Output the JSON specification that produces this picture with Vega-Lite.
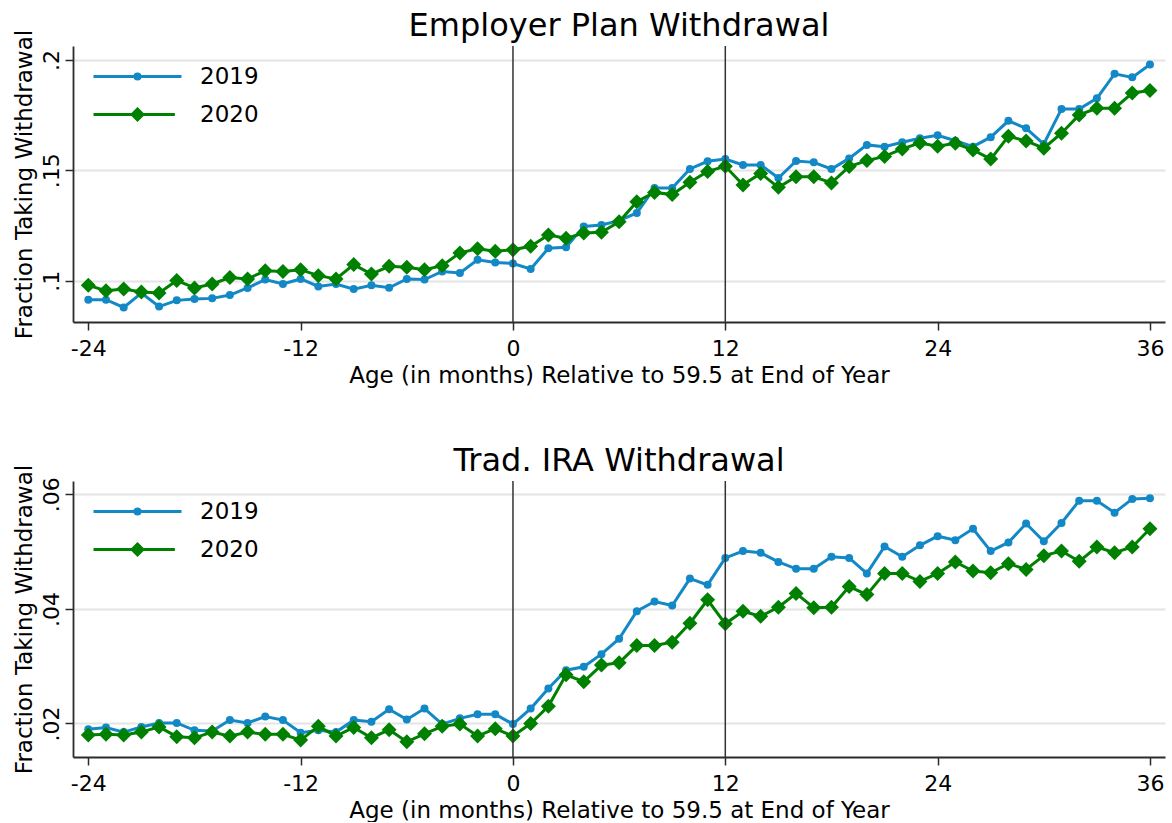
{
  "$schema": "https://vega.github.io/schema/vega-lite/v6.json",
  "background": "white",
  "padding": {"left": 12, "top": 10, "right": 5, "bottom": 0},
  "spacing": 58,
  "config": {
    "font": "DejaVu Sans",
    "view": {"stroke": null},
    "title": {"fontSize": 32, "fontWeight": "normal", "color": "black", "anchor": "middle", "baseline": "alphabetic", "offset": -14, "frame": "group"},
    "axis": {
      "labelFont": "DejaVu Sans", "titleFont": "DejaVu Sans",
      "labelFontSize": 22, "titleFontSize": 23, "titleFontWeight": "normal",
      "labelColor": "black", "titleColor": "black",
      "domainColor": "#2b2b2b", "domainWidth": 1.8,
      "tickColor": "#2b2b2b", "tickWidth": 1.5, "tickSize": 8
    },
    "legend": {"labelFont": "DejaVu Sans", "labelFontSize": 23, "labelColor": "black", "title": null, "orient": "none", "legendX": 52, "legendY": 18, "padding": 0, "rowPadding": 13, "symbolSize": 484, "symbolStrokeWidth": 3, "symbolOpacity": 1, "labelOffset": 50}
  },
  "datasets": {
    "vlines": [{"m": 0}, {"m": 12}],
    "ep": [
      {"m":-24,"year":"2019","v":0.0914},{"m":-23,"year":"2019","v":0.0914},{"m":-22,"year":"2019","v":0.0879},{"m":-21,"year":"2019","v":0.0944},{"m":-20,"year":"2019","v":0.0883},{"m":-19,"year":"2019","v":0.0911},{"m":-18,"year":"2019","v":0.0917},{"m":-17,"year":"2019","v":0.0920},{"m":-16,"year":"2019","v":0.0935},{"m":-15,"year":"2019","v":0.0967},{"m":-14,"year":"2019","v":0.1005},{"m":-13,"year":"2019","v":0.0985},{"m":-12,"year":"2019","v":0.1008},{"m":-11,"year":"2019","v":0.0974},{"m":-10,"year":"2019","v":0.0985},{"m":-9,"year":"2019","v":0.0962},{"m":-8,"year":"2019","v":0.0979},{"m":-7,"year":"2019","v":0.0968},{"m":-6,"year":"2019","v":0.1008},{"m":-5,"year":"2019","v":0.1005},{"m":-4,"year":"2019","v":0.1042},{"m":-3,"year":"2019","v":0.1035},{"m":-2,"year":"2019","v":0.1095},{"m":-1,"year":"2019","v":0.1083},{"m":0,"year":"2019","v":0.1078},{"m":1,"year":"2019","v":0.1053},{"m":2,"year":"2019","v":0.1147},{"m":3,"year":"2019","v":0.1151},{"m":4,"year":"2019","v":0.1246},{"m":5,"year":"2019","v":0.1252},{"m":6,"year":"2019","v":0.1272},{"m":7,"year":"2019","v":0.1307},{"m":8,"year":"2019","v":0.1420},{"m":9,"year":"2019","v":0.1420},{"m":10,"year":"2019","v":0.1506},{"m":11,"year":"2019","v":0.1541},{"m":12,"year":"2019","v":0.1551},{"m":13,"year":"2019","v":0.1524},{"m":14,"year":"2019","v":0.1524},{"m":15,"year":"2019","v":0.1465},{"m":16,"year":"2019","v":0.1542},{"m":17,"year":"2019","v":0.1536},{"m":18,"year":"2019","v":0.1506},{"m":19,"year":"2019","v":0.1554},{"m":20,"year":"2019","v":0.1615},{"m":21,"year":"2019","v":0.1607},{"m":22,"year":"2019","v":0.1627},{"m":23,"year":"2019","v":0.1645},{"m":24,"year":"2019","v":0.1659},{"m":25,"year":"2019","v":0.1634},{"m":26,"year":"2019","v":0.1607},{"m":27,"year":"2019","v":0.1650},{"m":28,"year":"2019","v":0.1724},{"m":29,"year":"2019","v":0.1690},{"m":30,"year":"2019","v":0.1619},{"m":31,"year":"2019","v":0.1778},{"m":32,"year":"2019","v":0.1778},{"m":33,"year":"2019","v":0.1826},{"m":34,"year":"2019","v":0.1937},{"m":35,"year":"2019","v":0.1921},{"m":36,"year":"2019","v":0.1979},
      {"m":-24,"year":"2020","v":0.0979},{"m":-23,"year":"2020","v":0.0955},{"m":-22,"year":"2020","v":0.0962},{"m":-21,"year":"2020","v":0.0949},{"m":-20,"year":"2020","v":0.0944},{"m":-19,"year":"2020","v":0.1001},{"m":-18,"year":"2020","v":0.0967},{"m":-17,"year":"2020","v":0.0985},{"m":-16,"year":"2020","v":0.1014},{"m":-15,"year":"2020","v":0.1008},{"m":-14,"year":"2020","v":0.1045},{"m":-13,"year":"2020","v":0.1042},{"m":-12,"year":"2020","v":0.1050},{"m":-11,"year":"2020","v":0.1023},{"m":-10,"year":"2020","v":0.1008},{"m":-9,"year":"2020","v":0.1073},{"m":-8,"year":"2020","v":0.1030},{"m":-7,"year":"2020","v":0.1065},{"m":-6,"year":"2020","v":0.1061},{"m":-5,"year":"2020","v":0.1050},{"m":-4,"year":"2020","v":0.1068},{"m":-3,"year":"2020","v":0.1126},{"m":-2,"year":"2020","v":0.1145},{"m":-1,"year":"2020","v":0.1133},{"m":0,"year":"2020","v":0.1140},{"m":1,"year":"2020","v":0.1156},{"m":2,"year":"2020","v":0.1207},{"m":3,"year":"2020","v":0.1192},{"m":4,"year":"2020","v":0.1216},{"m":5,"year":"2020","v":0.1219},{"m":6,"year":"2020","v":0.1267},{"m":7,"year":"2020","v":0.1358},{"m":8,"year":"2020","v":0.1400},{"m":9,"year":"2020","v":0.1390},{"m":10,"year":"2020","v":0.1446},{"m":11,"year":"2020","v":0.1495},{"m":12,"year":"2020","v":0.1518},{"m":13,"year":"2020","v":0.1434},{"m":14,"year":"2020","v":0.1486},{"m":15,"year":"2020","v":0.1423},{"m":16,"year":"2020","v":0.1471},{"m":17,"year":"2020","v":0.1471},{"m":18,"year":"2020","v":0.1443},{"m":19,"year":"2020","v":0.1517},{"m":20,"year":"2020","v":0.1544},{"m":21,"year":"2020","v":0.1563},{"m":22,"year":"2020","v":0.1597},{"m":23,"year":"2020","v":0.1624},{"m":24,"year":"2020","v":0.1609},{"m":25,"year":"2020","v":0.1622},{"m":26,"year":"2020","v":0.1592},{"m":27,"year":"2020","v":0.1551},{"m":28,"year":"2020","v":0.1654},{"m":29,"year":"2020","v":0.1633},{"m":30,"year":"2020","v":0.1600},{"m":31,"year":"2020","v":0.1668},{"m":32,"year":"2020","v":0.1751},{"m":33,"year":"2020","v":0.1781},{"m":34,"year":"2020","v":0.1781},{"m":35,"year":"2020","v":0.1850},{"m":36,"year":"2020","v":0.1861}
    ],
    "ira": [
      {"m":-24,"year":"2019","v":0.0190},{"m":-23,"year":"2019","v":0.0193},{"m":-22,"year":"2019","v":0.0185},{"m":-21,"year":"2019","v":0.0194},{"m":-20,"year":"2019","v":0.0201},{"m":-19,"year":"2019","v":0.0201},{"m":-18,"year":"2019","v":0.0188},{"m":-17,"year":"2019","v":0.0187},{"m":-16,"year":"2019","v":0.0206},{"m":-15,"year":"2019","v":0.0201},{"m":-14,"year":"2019","v":0.0212},{"m":-13,"year":"2019","v":0.0206},{"m":-12,"year":"2019","v":0.0184},{"m":-11,"year":"2019","v":0.0188},{"m":-10,"year":"2019","v":0.0185},{"m":-9,"year":"2019","v":0.0206},{"m":-8,"year":"2019","v":0.0203},{"m":-7,"year":"2019","v":0.0225},{"m":-6,"year":"2019","v":0.0207},{"m":-5,"year":"2019","v":0.0226},{"m":-4,"year":"2019","v":0.0199},{"m":-3,"year":"2019","v":0.0209},{"m":-2,"year":"2019","v":0.0216},{"m":-1,"year":"2019","v":0.0216},{"m":0,"year":"2019","v":0.0199},{"m":1,"year":"2019","v":0.0226},{"m":2,"year":"2019","v":0.0261},{"m":3,"year":"2019","v":0.0293},{"m":4,"year":"2019","v":0.0299},{"m":5,"year":"2019","v":0.0321},{"m":6,"year":"2019","v":0.0348},{"m":7,"year":"2019","v":0.0396},{"m":8,"year":"2019","v":0.0413},{"m":9,"year":"2019","v":0.0406},{"m":10,"year":"2019","v":0.0453},{"m":11,"year":"2019","v":0.0442},{"m":12,"year":"2019","v":0.0489},{"m":13,"year":"2019","v":0.0501},{"m":14,"year":"2019","v":0.0498},{"m":15,"year":"2019","v":0.0482},{"m":16,"year":"2019","v":0.0470},{"m":17,"year":"2019","v":0.0470},{"m":18,"year":"2019","v":0.0491},{"m":19,"year":"2019","v":0.0489},{"m":20,"year":"2019","v":0.0462},{"m":21,"year":"2019","v":0.0509},{"m":22,"year":"2019","v":0.0491},{"m":23,"year":"2019","v":0.0511},{"m":24,"year":"2019","v":0.0527},{"m":25,"year":"2019","v":0.0520},{"m":26,"year":"2019","v":0.0540},{"m":27,"year":"2019","v":0.0501},{"m":28,"year":"2019","v":0.0516},{"m":29,"year":"2019","v":0.0549},{"m":30,"year":"2019","v":0.0518},{"m":31,"year":"2019","v":0.0550},{"m":32,"year":"2019","v":0.0589},{"m":33,"year":"2019","v":0.0589},{"m":34,"year":"2019","v":0.0568},{"m":35,"year":"2019","v":0.0592},{"m":36,"year":"2019","v":0.0593},
      {"m":-24,"year":"2020","v":0.0180},{"m":-23,"year":"2020","v":0.0181},{"m":-22,"year":"2020","v":0.0180},{"m":-21,"year":"2020","v":0.0185},{"m":-20,"year":"2020","v":0.0194},{"m":-19,"year":"2020","v":0.0177},{"m":-18,"year":"2020","v":0.0175},{"m":-17,"year":"2020","v":0.0185},{"m":-16,"year":"2020","v":0.0178},{"m":-15,"year":"2020","v":0.0185},{"m":-14,"year":"2020","v":0.0181},{"m":-13,"year":"2020","v":0.0181},{"m":-12,"year":"2020","v":0.0171},{"m":-11,"year":"2020","v":0.0195},{"m":-10,"year":"2020","v":0.0178},{"m":-9,"year":"2020","v":0.0193},{"m":-8,"year":"2020","v":0.0175},{"m":-7,"year":"2020","v":0.0189},{"m":-6,"year":"2020","v":0.0168},{"m":-5,"year":"2020","v":0.0182},{"m":-4,"year":"2020","v":0.0195},{"m":-3,"year":"2020","v":0.0199},{"m":-2,"year":"2020","v":0.0178},{"m":-1,"year":"2020","v":0.0191},{"m":0,"year":"2020","v":0.0178},{"m":1,"year":"2020","v":0.0200},{"m":2,"year":"2020","v":0.0230},{"m":3,"year":"2020","v":0.0285},{"m":4,"year":"2020","v":0.0273},{"m":5,"year":"2020","v":0.0302},{"m":6,"year":"2020","v":0.0306},{"m":7,"year":"2020","v":0.0336},{"m":8,"year":"2020","v":0.0336},{"m":9,"year":"2020","v":0.0342},{"m":10,"year":"2020","v":0.0375},{"m":11,"year":"2020","v":0.0416},{"m":12,"year":"2020","v":0.0374},{"m":13,"year":"2020","v":0.0396},{"m":14,"year":"2020","v":0.0387},{"m":15,"year":"2020","v":0.0403},{"m":16,"year":"2020","v":0.0427},{"m":17,"year":"2020","v":0.0402},{"m":18,"year":"2020","v":0.0403},{"m":19,"year":"2020","v":0.0439},{"m":20,"year":"2020","v":0.0425},{"m":21,"year":"2020","v":0.0462},{"m":22,"year":"2020","v":0.0462},{"m":23,"year":"2020","v":0.0448},{"m":24,"year":"2020","v":0.0462},{"m":25,"year":"2020","v":0.0482},{"m":26,"year":"2020","v":0.0466},{"m":27,"year":"2020","v":0.0463},{"m":28,"year":"2020","v":0.0479},{"m":29,"year":"2020","v":0.0469},{"m":30,"year":"2020","v":0.0493},{"m":31,"year":"2020","v":0.0501},{"m":32,"year":"2020","v":0.0483},{"m":33,"year":"2020","v":0.0508},{"m":34,"year":"2020","v":0.0498},{"m":35,"year":"2020","v":0.0508},{"m":36,"year":"2020","v":0.0540}
    ]
  },
  "resolve": {"scale": {"fill": "independent", "stroke": "independent", "shape": "independent"}, "legend": {"fill": "independent", "stroke": "independent", "shape": "independent"}},
  "vconcat": [
    {
      "title": "Employer Plan Withdrawal",
      "width": 1092, "height": 276,
      "data": {"name": "ep"},
      "encoding": {
        "x": {"field": "m", "type": "quantitative", "scale": {"domain": [-24.865, 36.85], "nice": false, "zero": false},
          "axis": {"title": "Age (in months) Relative to 59.5 at End of Year", "values": [-24, -12, 0, 12, 24, 36], "labelExpr": "toString(datum.value)", "grid": false, "labelPadding": 8, "titlePadding": 5}},
        "y": {"field": "v", "type": "quantitative", "scale": {"domain": [0.0813, 0.2063], "nice": false, "zero": false},
          "axis": {"title": "Fraction Taking Withdrawal", "values": [0.1, 0.15, 0.2], "labelExpr": "replace(toString(datum.value), '0.', '.')", "labelAngle": -90, "labelAlign": "center", "labelBaseline": "alphabetic", "labelPadding": 7, "titlePadding": 4, "grid": true, "gridColor": "#e4e4e4", "gridWidth": 1.8}}
      },
      "layer": [
        {"transform": [{"filter": "datum.year === '2019'"}], "mark": {"type": "line", "strokeWidth": 3, "color": "#1289c6"}},
        {"transform": [{"filter": "datum.year === '2019'"}], "mark": {"type": "point", "shape": "circle", "filled": true, "opacity": 1, "size": 64, "color": "#1289c6"}},
        {"transform": [{"filter": "datum.year === '2020'"}], "mark": {"type": "line", "strokeWidth": 3, "color": "#008000"}},
        {"transform": [{"filter": "datum.year === '2020'"}], "mark": {"type": "point", "shape": "diamond", "filled": true, "opacity": 1, "size": 225, "color": "#008000"}},
        {"mark": {"type": "point", "filled": true, "opacity": 0},
          "encoding": {
            "fill": {"field": "year", "type": "nominal", "scale": {"domain": ["2019", "2020"], "range": ["#1289c6", "#008000"]}},
            "stroke": {"field": "year", "type": "nominal", "scale": {"domain": ["2019", "2020"], "range": ["#1289c6", "#008000"]}},
            "shape": {"field": "year", "type": "nominal", "scale": {"domain": ["2019", "2020"], "range": ["M-4,0H4M-0.23,0A0.23,0.23,0,1,1,0.23,0A0.23,0.23,0,1,1,-0.23,0Z", "M-4,0H3.4M0,-0.49L0.49,0L0,0.49L-0.49,0Z"]}}}},
        {"data": {"name": "vlines"}, "mark": {"type": "rule", "color": "#333333", "strokeWidth": 1.5},
          "encoding": {"x": {"field": "m", "type": "quantitative"}, "y": {"value": 0}, "y2": {"value": 276}}}
      ]
    },
    {
      "title": "Trad. IRA Withdrawal",
      "width": 1092, "height": 276,
      "data": {"name": "ira"},
      "encoding": {
        "x": {"field": "m", "type": "quantitative", "scale": {"domain": [-24.865, 36.85], "nice": false, "zero": false},
          "axis": {"title": "Age (in months) Relative to 59.5 at End of Year", "values": [-24, -12, 0, 12, 24, 36], "labelExpr": "toString(datum.value)", "grid": false, "labelPadding": 8, "titlePadding": 5}},
        "y": {"field": "v", "type": "quantitative", "scale": {"domain": [0.01415, 0.06233], "nice": false, "zero": false},
          "axis": {"title": "Fraction Taking Withdrawal", "values": [0.02, 0.04, 0.06], "labelExpr": "replace(toString(datum.value), '0.', '.')", "labelAngle": -90, "labelAlign": "center", "labelBaseline": "alphabetic", "labelPadding": 7, "titlePadding": 4, "grid": true, "gridColor": "#e4e4e4", "gridWidth": 1.8}}
      },
      "layer": [
        {"transform": [{"filter": "datum.year === '2019'"}], "mark": {"type": "line", "strokeWidth": 3, "color": "#1289c6"}},
        {"transform": [{"filter": "datum.year === '2019'"}], "mark": {"type": "point", "shape": "circle", "filled": true, "opacity": 1, "size": 64, "color": "#1289c6"}},
        {"transform": [{"filter": "datum.year === '2020'"}], "mark": {"type": "line", "strokeWidth": 3, "color": "#008000"}},
        {"transform": [{"filter": "datum.year === '2020'"}], "mark": {"type": "point", "shape": "diamond", "filled": true, "opacity": 1, "size": 225, "color": "#008000"}},
        {"mark": {"type": "point", "filled": true, "opacity": 0},
          "encoding": {
            "fill": {"field": "year", "type": "nominal", "scale": {"domain": ["2019", "2020"], "range": ["#1289c6", "#008000"]}},
            "stroke": {"field": "year", "type": "nominal", "scale": {"domain": ["2019", "2020"], "range": ["#1289c6", "#008000"]}},
            "shape": {"field": "year", "type": "nominal", "scale": {"domain": ["2019", "2020"], "range": ["M-4,0H4M-0.23,0A0.23,0.23,0,1,1,0.23,0A0.23,0.23,0,1,1,-0.23,0Z", "M-4,0H3.4M0,-0.49L0.49,0L0,0.49L-0.49,0Z"]}}}},
        {"data": {"name": "vlines"}, "mark": {"type": "rule", "color": "#333333", "strokeWidth": 1.5},
          "encoding": {"x": {"field": "m", "type": "quantitative"}, "y": {"value": 0}, "y2": {"value": 276}}}
      ]
    }
  ]
}
